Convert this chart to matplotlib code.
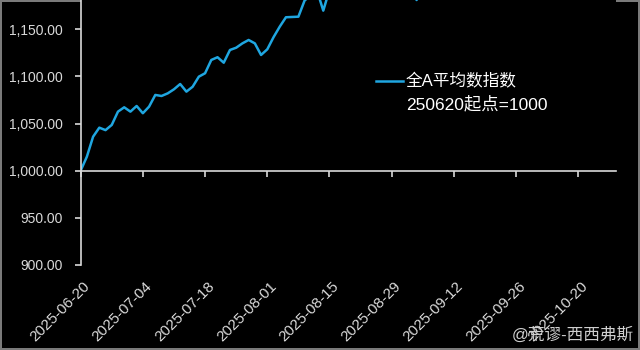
import matplotlib
matplotlib.use("Agg")
import matplotlib.pyplot as plt
import matplotlib.transforms as mtransforms
from matplotlib.ticker import FuncFormatter

plt.rcParams['font.family'] = ['Liberation Sans', 'Noto Sans CJK SC', 'DejaVu Sans']

# ---------------- DATA ----------------
# trading-day index (0 = 2025-06-20)
index_values = [
    1000.0, 1014.8, 1036.0, 1045.6, 1043.0, 1048.5, 1062.6, 1067.2, 1062.6, 1068.6,
    1060.9, 1067.9, 1080.3, 1079.2, 1082.0, 1086.3, 1091.9, 1083.8, 1089.0, 1099.7,
    1103.3, 1117.4, 1120.3, 1114.5, 1128.0, 1130.4, 1135.0, 1138.6, 1135.0, 1122.7,
    1128.7, 1141.5, 1152.7, 1162.7, 1163.0, 1163.3, 1180.5, 1186.0, 1191.0, 1169.7,
    1192.0, 1200.0, 1205.0, 1210.0, 1215.0, 1225.0, 1220.0, 1230.0, 1235.0, 1215.0,
    1225.0, 1228.0, 1210.0, 1195.0, 1181.0, 1195.0, 1205.0,
]
tick_pos = [0, 10, 20, 30, 40, 50, 60, 70, 80]
tick_labels = ['2025-06-20', '2025-07-04', '2025-07-18', '2025-08-01', '2025-08-15',
               '2025-08-29', '2025-09-12', '2025-09-26', '2025-10-20']
y_ticks = [900, 950, 1000, 1050, 1100, 1150]

LINE_COLOR = '#1fa6e0'
AXIS_COLOR = '#d9d9d9'

# ---------------- PLOT ----------------
fig = plt.figure(figsize=(6.4, 3.5), dpi=100)
fig.patch.set_facecolor('black')
fig.patch.set_edgecolor('#7a7a7a')
fig.patch.set_linewidth(1.5)

ax = fig.add_axes([0.126, 0.243, 0.836, 0.757])
ax.set_facecolor('black')

x = list(range(len(index_values)))
ax.plot(x, index_values, color=LINE_COLOR, lw=1.8, label='全A平均数指数')

ax.set_xlim(0, 86)
ax.set_ylim(900, 1181)

# spines
for s in ['top', 'right']:
    ax.spines[s].set_visible(False)
ax.spines['left'].set_color(AXIS_COLOR)
ax.spines['left'].set_linewidth(1.2)
ax.spines['bottom'].set_position(('data', 1000))
ax.spines['bottom'].set_color(AXIS_COLOR)
ax.spines['bottom'].set_linewidth(1.2)

ax.set_yticks(y_ticks)
ax.yaxis.set_major_formatter(FuncFormatter(lambda v, p: f'{v:,.2f}'))
ax.tick_params(axis='y', colors=AXIS_COLOR, labelsize=10, length=4, width=1.2, pad=9)

ax.set_xticks(tick_pos)
ax.tick_params(axis='x', colors=AXIS_COLOR, length=4, width=1.2, labelbottom=False)

# date labels sit below the plot, not on the 1000 line
sec = ax.secondary_xaxis('bottom')
sec.spines['bottom'].set_visible(False)
sec.set_xticks(tick_pos)
sec.set_xticklabels(tick_labels)
sec.tick_params(axis='x', colors=AXIS_COLOR, length=0, pad=10, labelsize=11)
offset = mtransforms.ScaledTranslation(2 / 100, 0, fig.dpi_scale_trans)
for lab in sec.get_xticklabels():
    lab.set_rotation(45)
    lab.set_ha('right')
    lab.set_va('top')
    lab.set_rotation_mode('anchor')
    lab.set_transform(lab.get_transform() + offset)

# legend + second line of text
leg = ax.legend(loc='center left', bbox_to_anchor=(0.552, 0.692), frameon=False,
                fontsize=12, handlelength=1.65, handletextpad=0.15,
                borderpad=0, borderaxespad=0)
for t in leg.get_texts():
    t.set_color('white')
ax.text(0.608, 0.607, '250620起点=1000', transform=ax.transAxes, color='white',
        fontsize=12.5, ha='left', va='center')

# watermark
fig.text(0.99, 0.043, '@荒谬-西西弗斯', color='#cfcfcf', fontsize=12,
         ha='right', va='center')

fig.savefig('out.png', dpi=100, facecolor=fig.get_facecolor(),
            edgecolor=fig.get_edgecolor())
